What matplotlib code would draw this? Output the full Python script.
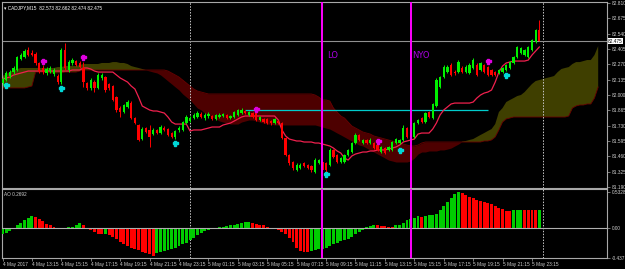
import matplotlib
matplotlib.use('Agg')
import matplotlib.pyplot as plt
import numpy as np
from matplotlib import font_manager

# ---------------- data ----------------
opens = [82.106, 82.132, 82.167, 82.202, 82.220, 82.317, 82.334, 82.396, 82.370, 82.361,
         82.282, 82.238, 82.194, 82.211, 82.185, 82.167, 82.114, 82.396, 82.220, 82.282,
         82.299, 82.282, 82.238, 82.106, 82.062, 82.114, 82.062, 82.150, 82.158, 82.097,
         82.079, 81.982, 81.885, 81.850, 81.894, 81.929, 81.797, 81.736, 81.612, 81.709,
         81.692, 81.656, 81.692, 81.665, 81.709, 81.700, 81.665, 81.630, 81.692, 81.692,
         81.753, 81.771, 81.797, 81.806, 81.833, 81.797, 81.815, 81.815, 81.789, 81.806,
         81.815, 81.824, 81.797, 81.806, 81.824, 81.841, 81.859, 81.824, 81.841, 81.841,
         81.780, 81.789, 81.789, 81.771, 81.753, 81.771, 81.753, 81.621, 81.472, 81.410,
         81.339, 81.357, 81.401, 81.383, 81.375, 81.322, 81.401, 81.410, 81.401, 81.383,
         81.516, 81.472, 81.410, 81.410, 81.472, 81.498, 81.577, 81.648, 81.577, 81.604,
         81.577, 81.577, 81.559, 81.498, 81.533, 81.516, 81.516, 81.577, 81.577, 81.604,
         81.709, 81.630, 81.630, 81.753, 81.797, 81.762, 81.850, 81.797, 81.903, 82.070,
         82.158, 82.202, 82.264, 82.202, 82.202, 82.238, 82.202, 82.194, 82.238, 82.264,
         82.220, 82.264, 82.246, 82.220, 82.202, 82.194, 82.202, 82.220, 82.238, 82.282,
         82.334, 82.370, 82.352, 82.334, 82.396, 82.467, 82.573]
highs = [82.158, 82.211, 82.220, 82.255, 82.343, 82.370, 82.405, 82.423, 82.396, 82.378,
         82.290, 82.264, 82.246, 82.255, 82.238, 82.185, 82.414, 82.458, 82.308, 82.326,
         82.308, 82.299, 82.290, 82.114, 82.150, 82.132, 82.194, 82.194, 82.167, 82.106,
         82.088, 81.991, 81.903, 81.921, 81.956, 81.947, 81.806, 81.744, 81.718, 81.718,
         81.736, 81.709, 81.700, 81.736, 81.727, 81.709, 81.674, 81.692, 81.727, 81.771,
         81.824, 81.815, 81.841, 81.859, 81.850, 81.841, 81.850, 81.824, 81.833, 81.841,
         81.841, 81.833, 81.824, 81.859, 81.877, 81.885, 81.868, 81.859, 81.850, 81.859,
         81.815, 81.797, 81.797, 81.780, 81.797, 81.780, 81.762, 81.630, 81.480, 81.419,
         81.401, 81.401, 81.410, 81.392, 81.383, 81.445, 81.436, 81.419, 81.410, 81.533,
         81.524, 81.480, 81.454, 81.480, 81.524, 81.586, 81.665, 81.656, 81.612, 81.612,
         81.621, 81.586, 81.568, 81.551, 81.542, 81.551, 81.595, 81.621, 81.612, 81.736,
         81.718, 81.709, 81.762, 81.789, 81.806, 81.850, 81.859, 81.929, 82.150, 82.167,
         82.264, 82.264, 82.282, 82.220, 82.308, 82.255, 82.264, 82.282, 82.326, 82.282,
         82.290, 82.273, 82.255, 82.229, 82.211, 82.229, 82.246, 82.273, 82.299, 82.343,
         82.431, 82.423, 82.405, 82.431, 82.493, 82.581, 82.662]
lows = [82.088, 82.123, 82.150, 82.185, 82.211, 82.308, 82.326, 82.343, 82.343, 82.264,
        82.194, 82.185, 82.176, 82.194, 82.167, 82.097, 82.097, 82.220, 82.202, 82.264,
        82.255, 82.238, 82.070, 82.044, 82.044, 82.026, 82.053, 82.132, 82.026, 82.044,
        81.947, 81.850, 81.806, 81.841, 81.885, 81.789, 81.744, 81.595, 81.604, 81.665,
        81.542, 81.648, 81.656, 81.656, 81.683, 81.639, 81.621, 81.612, 81.674, 81.683,
        81.744, 81.762, 81.789, 81.797, 81.797, 81.780, 81.797, 81.780, 81.780, 81.797,
        81.806, 81.789, 81.789, 81.797, 81.815, 81.833, 81.833, 81.815, 81.797, 81.771,
        81.771, 81.753, 81.744, 81.736, 81.744, 81.744, 81.612, 81.463, 81.383, 81.339,
        81.331, 81.348, 81.366, 81.348, 81.322, 81.313, 81.392, 81.331, 81.322, 81.375,
        81.445, 81.401, 81.401, 81.401, 81.463, 81.489, 81.568, 81.595, 81.568, 81.568,
        81.568, 81.524, 81.507, 81.489, 81.480, 81.507, 81.507, 81.568, 81.568, 81.595,
        81.621, 81.621, 81.621, 81.744, 81.753, 81.753, 81.797, 81.789, 81.894, 82.062,
        82.150, 82.194, 82.167, 82.176, 82.194, 82.194, 82.194, 82.185, 82.229, 82.167,
        82.211, 82.194, 82.167, 82.167, 82.167, 82.185, 82.194, 82.211, 82.229, 82.273,
        82.326, 82.361, 82.343, 82.326, 82.387, 82.458, 82.474]
closes = [82.141, 82.194, 82.202, 82.238, 82.334, 82.352, 82.387, 82.352, 82.352, 82.282,
          82.211, 82.202, 82.229, 82.238, 82.220, 82.114, 82.396, 82.238, 82.290, 82.308,
          82.264, 82.246, 82.114, 82.062, 82.132, 82.062, 82.176, 82.176, 82.044, 82.062,
          81.956, 81.868, 81.850, 81.912, 81.938, 81.797, 81.753, 81.604, 81.700, 81.674,
          81.630, 81.692, 81.665, 81.718, 81.692, 81.648, 81.630, 81.683, 81.709, 81.762,
          81.806, 81.797, 81.824, 81.841, 81.806, 81.824, 81.833, 81.789, 81.824, 81.824,
          81.833, 81.797, 81.815, 81.850, 81.868, 81.868, 81.841, 81.850, 81.806, 81.780,
          81.806, 81.762, 81.753, 81.753, 81.789, 81.753, 81.621, 81.472, 81.401, 81.357,
          81.383, 81.383, 81.375, 81.357, 81.339, 81.427, 81.427, 81.339, 81.339, 81.516,
          81.454, 81.410, 81.445, 81.472, 81.516, 81.577, 81.648, 81.604, 81.604, 81.577,
          81.604, 81.533, 81.516, 81.542, 81.489, 81.542, 81.586, 81.612, 81.604, 81.709,
          81.630, 81.683, 81.753, 81.780, 81.762, 81.841, 81.806, 81.921, 82.132, 82.158,
          82.246, 82.246, 82.176, 82.194, 82.290, 82.202, 82.246, 82.264, 82.308, 82.176,
          82.282, 82.202, 82.176, 82.176, 82.176, 82.220, 82.238, 82.264, 82.290, 82.334,
          82.423, 82.414, 82.396, 82.423, 82.484, 82.572, 82.475]

kijun = [82.141, 82.150, 82.158, 82.176, 82.185, 82.194, 82.202, 82.211, 82.211, 82.211,
         82.211, 82.211, 82.211, 82.211, 82.211, 82.211, 82.211, 82.211, 82.211, 82.220,
         82.220, 82.220, 82.238, 82.238, 82.229, 82.211, 82.202, 82.202, 82.202, 82.202,
         82.202, 82.176, 82.150, 82.132, 82.114, 82.079, 82.053, 81.982, 81.903, 81.885,
         81.868, 81.859, 81.859, 81.850, 81.841, 81.806, 81.762, 81.744, 81.744, 81.744,
         81.744, 81.683, 81.692, 81.692, 81.692, 81.700, 81.709, 81.718, 81.718, 81.718,
         81.736, 81.744, 81.753, 81.771, 81.789, 81.806, 81.815, 81.815, 81.815, 81.815,
         81.815, 81.815, 81.815, 81.815, 81.815, 81.780, 81.692, 81.639, 81.612, 81.604,
         81.595, 81.595, 81.586, 81.586, 81.586, 81.577, 81.577, 81.568, 81.559, 81.551,
         81.533, 81.507, 81.489, 81.445, 81.427, 81.463, 81.480, 81.489, 81.498, 81.498,
         81.507, 81.507, 81.516, 81.516, 81.516, 81.524, 81.533, 81.542, 81.559, 81.586,
         81.595, 81.604, 81.612, 81.656, 81.665, 81.665, 81.665, 81.700, 81.753, 81.824,
         81.868, 81.894, 81.921, 81.929, 81.929, 81.929, 81.929, 81.929, 81.938, 81.973,
         82.000, 82.017, 82.026, 82.044, 82.114, 82.202, 82.255, 82.282, 82.290, 82.299,
         82.299, 82.299, 82.299, 82.308, 82.352, 82.387, 82.423]

span_a = [82.167, 82.185, 82.202, 82.220, 82.229, 82.238, 82.238, 82.238, 82.238, 82.238,
          82.238, 82.238, 82.238, 82.238, 82.238, 82.246, 82.246, 82.255, 82.255, 82.255,
          82.255, 82.264, 82.273, 82.273, 82.273, 82.273, 82.273, 82.282, 82.282, 82.282,
          82.290, 82.290, 82.282, 82.282, 82.273, 82.255, 82.246, 82.238, 82.229, 82.220,
          82.211, 82.202, 82.194, 82.176, 82.150, 82.123, 82.097, 82.070, 82.044, 82.009,
          81.982, 81.956, 81.921, 81.885, 81.868, 81.841, 81.824, 81.806, 81.789, 81.771,
          81.762, 81.753, 81.744, 81.744, 81.744, 81.762, 81.771, 81.780, 81.780, 81.771,
          81.762, 81.753, 81.744, 81.744, 81.736, 81.736, 81.736, 81.736, 81.736, 81.736,
          81.736, 81.736, 81.736, 81.736, 81.736, 81.736, 81.727, 81.718, 81.709, 81.700,
          81.683, 81.665, 81.648, 81.630, 81.612, 81.595, 81.577, 81.559, 81.551, 81.533,
          81.516, 81.498, 81.480, 81.463, 81.445, 81.427, 81.419, 81.410, 81.410, 81.410,
          81.410, 81.419, 81.445, 81.480, 81.498, 81.498, 81.507, 81.507, 81.507, 81.516,
          81.516, 81.524, 81.533, 81.551, 81.568, 81.590, 81.595, 81.604, 81.612, 81.630,
          81.648, 81.665, 81.683, 81.700, 81.744, 81.850, 81.885, 81.938, 81.956, 81.973,
          81.991, 82.000, 82.026, 82.062, 82.097, 82.123, 82.132, 82.141, 82.150, 82.158,
          82.167, 82.202, 82.229, 82.238, 82.246, 82.273, 82.290, 82.290, 82.299, 82.308,
          82.308, 82.352, 82.431]
span_b = [82.062, 82.062, 82.062, 82.062, 82.062, 82.062, 82.062, 82.070, 82.079, 82.202,
          82.202, 82.202, 82.202, 82.194, 82.194, 82.194, 82.194, 82.202, 82.202, 82.202,
          82.202, 82.211, 82.220, 82.220, 82.220, 82.220, 82.220, 82.220, 82.220, 82.220,
          82.220, 82.220, 82.220, 82.220, 82.220, 82.220, 82.220, 82.220, 82.220, 82.220,
          82.220, 82.220, 82.220, 82.220, 82.220, 82.211, 82.194, 82.176, 82.158, 82.132,
          82.106, 82.079, 82.053, 82.035, 82.026, 82.017, 82.009, 82.009, 82.009, 82.009,
          82.009, 82.009, 82.009, 82.009, 82.009, 82.009, 82.009, 82.009, 82.009, 82.009,
          82.009, 82.009, 82.009, 82.009, 82.009, 82.009, 82.009, 82.009, 82.009, 82.009,
          82.009, 82.009, 82.009, 82.009, 82.009, 82.000, 81.982, 81.956, 81.956, 81.947,
          81.885, 81.850, 81.815, 81.797, 81.762, 81.727, 81.709, 81.692, 81.674, 81.665,
          81.656, 81.639, 81.630, 81.621, 81.612, 81.604, 81.595, 81.586, 81.577, 81.568,
          81.559, 81.551, 81.551, 81.559, 81.577, 81.586, 81.586, 81.586, 81.586, 81.586,
          81.586, 81.586, 81.586, 81.586, 81.586, 81.586, 81.586, 81.586, 81.586, 81.586,
          81.586, 81.595, 81.595, 81.604, 81.630, 81.692, 81.762, 81.789, 81.797, 81.806,
          81.806, 81.806, 81.806, 81.806, 81.806, 81.806, 81.806, 81.806, 81.806, 81.806,
          81.806, 81.806, 81.806, 81.806, 81.815, 81.885, 81.903, 81.912, 81.912, 81.921,
          81.921, 81.973, 82.070]

ao = [-0.091, -0.067, -0.043, -0.019, 0.039, 0.077, 0.125, 0.149, 0.173, 0.170,
      0.135, 0.101, 0.067, 0.039, 0.020, 0.005, -0.012, -0.008, 0.010, 0.020,
      0.039, 0.070, 0.053, 0.005, -0.029, -0.058, -0.082, -0.091, -0.089, -0.106,
      -0.125, -0.154, -0.202, -0.236, -0.260, -0.284, -0.298, -0.317, -0.346, -0.366,
      -0.380, -0.404, -0.366, -0.346, -0.332, -0.317, -0.298, -0.284, -0.260, -0.236,
      -0.212, -0.178, -0.139, -0.106, -0.067, -0.043, -0.025, -0.012, -0.002, 0.010,
      0.020, 0.035, 0.043, 0.053, 0.067, 0.077, 0.085, 0.089, 0.077, 0.067,
      0.053, 0.039, 0.020, 0.002, -0.019, -0.029, -0.058, -0.091, -0.139, -0.202,
      -0.284, -0.332, -0.346, -0.350, -0.332, -0.317, -0.308, -0.298, -0.284, -0.260,
      -0.236, -0.212, -0.188, -0.173, -0.154, -0.125, -0.091, -0.060, -0.020, 0.020,
      0.035, 0.045, 0.040, 0.038, 0.029, 0.020, 0.014, 0.039, 0.053, 0.077,
      0.115, 0.135, 0.149, 0.173, 0.170, 0.183, 0.186, 0.197, 0.212, 0.260,
      0.318, 0.380, 0.438, 0.496, 0.5328, 0.510, 0.486, 0.462, 0.438, 0.414,
      0.404, 0.380, 0.366, 0.351, 0.327, 0.294, 0.279, 0.255, 0.253, 0.260,
      0.269, 0.271, 0.270, 0.269, 0.268, 0.267, 0.2692]

time_labels = ["4 May 2017", "4 May 13:15", "4 May 15:15", "4 May 17:15", "4 May 19:15",
               "4 May 21:15", "4 May 23:15", "5 May 01:15", "5 May 03:15", "5 May 05:15",
               "5 May 07:15", "5 May 09:15", "5 May 11:15", "5 May 13:15", "5 May 15:15",
               "5 May 17:15", "5 May 19:15", "5 May 21:15", "5 May 23:15"]
time_label_bars = [0, 8, 16, 24, 32, 40, 48, 56, 64, 72, 80, 88, 96, 104, 112, 120, 128, 136, 144]
price_ticks = [82.810, 82.675, 82.540, 82.405, 82.270, 82.135, 82.000,
               81.865, 81.730, 81.595, 81.460, 81.325, 81.190]
ao_ticks = [0.5328, 0.0, -0.437]
ao_tick_labels = ["0.5328", "0.00", "-0.437"]

down_marks_bar = [11, 22, 69, 102, 132]
down_marks_price = [82.299, 82.334, 81.880, 81.592, 82.299]
up_marks_bar = [1, 16, 47, 88, 108, 137]
up_marks_price = [82.088, 82.062, 81.577, 81.300, 81.516, 82.176]

cyan_level = 81.868
cyan_from, cyan_to = 66, 132
lo_bar, nyo_bar = 87, 111
day_sep_bars = [51, 147]
current_price = 82.475
title_text = "CADJPY,M15  82.573 82.662 82.474 82.475"
ao_title = "AO 0.2692"

# ---------------- style ----------------
def pick(names):
    for n in names:
        try:
            font_manager.findfont(font_manager.FontProperties(family=n), fallback_to_default=False)
            return n
        except Exception:
            pass
    return 'DejaVu Sans'

NARROW = pick(['Liberation Sans Narrow', 'DejaVu Sans Condensed', 'Liberation Sans'])
plt.rcParams['font.family'] = [NARROW, 'DejaVu Sans']

BG = 'black'
BULL = '#00f000'
BEAR = '#ff0000'
AO_UP = '#00cc00'
OLIVE = '#3f3f00'
MAROON = '#4d0000'
KIJUN = '#f0204e'
FRAME = '#a8a8a8'
TXT = '#d0d0d0'
FS = 3.4

W, H = 625, 269
fig = plt.figure(figsize=(W / 100, H / 100), dpi=100, facecolor=BG)
ax = fig.add_axes([2 / W, 1 - 188 / H, 605 / W, 186 / H], facecolor=BG)
ax2 = fig.add_axes([2 / W, 1 - 258 / H, 605 / W, 69 / H], facecolor=BG)

XMIN, XMAX = -0.14, 164.4
for a_ in (ax, ax2):
    a_.set_xlim(XMIN, XMAX)
    for s in a_.spines.values():
        s.set_color(FRAME)
        s.set_linewidth(0.8)
ax.set_ylim(81.181, 82.819)
ax2.set_ylim(-0.437, 0.573)

# cloud
xc = np.arange(len(span_a))
sa = np.array(span_a)
sb = np.array(span_b)
ax.fill_between(xc, sa, sb, where=sa >= sb, interpolate=True, color=OLIVE, lw=0, zorder=1)
ax.fill_between(xc, sa, sb, where=sa < sb, interpolate=True, color=MAROON, lw=0, zorder=1)
ax.plot(xc, sb, color='#6a0000', lw=0.6, zorder=1.5)

# separators and session lines
for b in day_sep_bars:
    for a_ in (ax, ax2):
        a_.axvline(b, color='#c8c8c8', lw=0.7, ls=(0, (1.5, 1.5)), zorder=2)
for b in (lo_bar, nyo_bar):
    for a_ in (ax, ax2):
        a_.axvline(b, color='#ff00ff', lw=1.4, zorder=7)

# current price line
ax.axhline(current_price, color='#909090', lw=0.8, zorder=2)
# cyan level
ax.hlines(cyan_level, cyan_from, cyan_to, color='#00cccc', lw=0.9, zorder=3)

# kijun line
x = np.arange(len(closes))
ax.plot(x, kijun, color=KIJUN, lw=0.9, zorder=3.5)

# candles
o = np.array(opens); c = np.array(closes); h = np.array(highs); l = np.array(lows)
up = c >= o
cols = np.where(up, BULL, BEAR)
ax.vlines(x, l, h, colors=cols, lw=0.7, zorder=4)
ax.bar(x, np.maximum(np.abs(c - o), 0.003), bottom=np.minimum(o, c), width=0.62,
       color=cols, linewidth=0, zorder=5)

# markers
ax.plot(down_marks_bar, down_marks_price, ls='none', marker='P', ms=3.6,
        color='#e000e0', mec='#e000e0', zorder=6)
ax.plot(up_marks_bar, up_marks_price, ls='none', marker='P', ms=3.6,
        color='#00d8d8', mec='#00d8d8', zorder=6)

# session labels
ax.text(lo_bar + 1.3, 82.352, 'LO', color='#a800e0', fontsize=6, ha='left', va='center',
        family='DejaVu Sans', zorder=8)
ax.text(nyo_bar + 0.4, 82.352, 'NYO', color='#a800e0', fontsize=6, ha='left', va='center',
        family='DejaVu Sans', zorder=8)

# title
ax.text(0.004, 0.985, '\u25be ' + title_text, transform=ax.transAxes, ha='left', va='top',
        fontsize=FS, color='white', zorder=9)

# price axis
ax.yaxis.tick_right()
ax.set_yticks(price_ticks)
ax.set_yticklabels([f'{v:.3f}' for v in price_ticks])
ax.tick_params(axis='y', colors=FRAME, labelcolor=TXT, labelsize=FS, length=2, width=0.5, pad=1.2)
ax.set_xticks([])
ax.text(1.002, current_price, f'{current_price:.3f}', transform=ax.get_yaxis_transform(),
        ha='left', va='center', fontsize=FS, color='black',
        bbox=dict(facecolor='white', edgecolor='none', pad=0.3), zorder=10, clip_on=False)

# AO
ao_arr = np.array(ao)
prev = np.concatenate([[ao_arr[0] - 1], ao_arr[:-1]])
ao_cols = np.where(ao_arr > prev, AO_UP, BEAR)
ax2.bar(np.arange(len(ao)), ao, width=0.8, color=ao_cols, linewidth=0, zorder=3)
ax2.axhline(0, color='#b0b0b0', lw=0.8, zorder=4)
ax2.yaxis.tick_right()
ax2.set_yticks(ao_ticks)
ax2.set_yticklabels(ao_tick_labels)
ax2.tick_params(axis='y', colors=FRAME, labelcolor=TXT, labelsize=FS, length=2, width=0.5, pad=1.2)
ax2.set_xticks(time_label_bars)
ax2.set_xticklabels(time_labels, ha='left')
ax2.tick_params(axis='x', colors=FRAME, labelcolor=TXT, labelsize=FS, length=2, width=0.5, pad=1)
ax2.text(0.004, 0.95, ao_title, transform=ax2.transAxes, ha='left', va='top',
         fontsize=FS, color=TXT, zorder=9)

fig.savefig('out.png', dpi=100, facecolor=BG)
